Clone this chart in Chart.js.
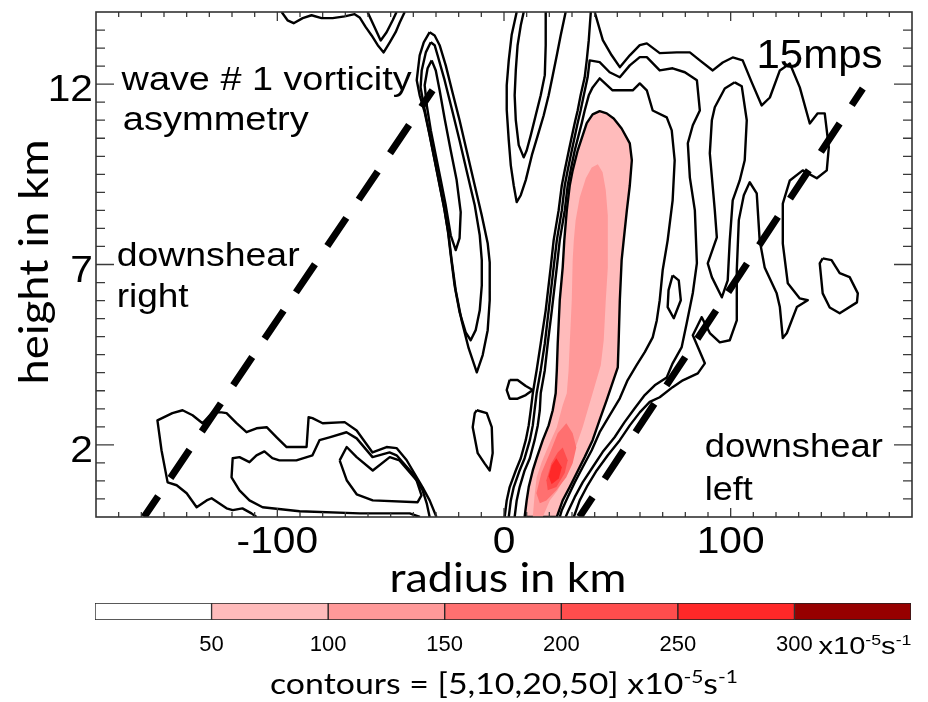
<!DOCTYPE html>
<html>
<head>
<meta charset="utf-8">
<title>wave # 1 vorticity asymmetry</title>
<script src="https://cdn.jsdelivr.net/npm/chart.js@4.4.1/dist/chart.umd.min.js"></script>
<style>
  html, body { margin: 0; padding: 0; background: #ffffff; }
  #wrap { position: relative; width: 928px; height: 702px; overflow: hidden; background: #fff; }
  #main { position: absolute; left: 0; top: 0; }
  #cbar { position: absolute; left: 0; top: 598px; }
</style>
</head>
<body>
<div id="wrap">
  <canvas id="main" width="928" height="600"></canvas>
  <canvas id="cbar" width="928" height="104"></canvas>
</div>
<script>
// ---------------- axes ----------------
const radiusRange = [-180, 180];
const heightRange = [0, 14];
const radiusTickValues = [-100, 0, 100];
const radiusTickLabels = ['-100', '0', '100'];
const heightTickValues = [2, 7, 12];
const heightTickLabels = ['2', '7', '12'];
const radiusMinorStep = 10;
const heightMinorStep = 0.5;
const radiusTitle = 'radius in km';
const heightTitle = 'height in km';

// ---------------- shaded vorticity (x1e-5 s-1), [radius km, height km] ----------------
const shade50 = [[9.1,0],[10.0,0.46],[10.9,0.83],[12.7,1.29],[14.4,1.63],[17.1,2.13],[19.7,2.54],[21.5,2.96],[22.8,3.43],[23.3,4.07],[23.7,4.81],[24.6,6.01],[25.9,6.92],[26.6,7.67],[27.7,8.50],[29.0,9.19],[30.3,9.61],[32.5,10.16],[36.5,10.92],[39.1,11.16],[42.2,11.25],[45.3,11.19],[48.4,11.05],[51.9,10.77],[55.5,10.36],[56.4,9.89],[55.5,9.19],[54.2,8.50],[52.8,7.67],[51.9,7.12],[51.1,6.01],[50.6,4.90],[50.2,4.15],[47.5,3.65],[45.3,3.24],[42.2,2.69],[39.1,2.13],[35.6,1.66],[32.1,1.22],[29.0,0.83],[25.9,0.46],[23.3,0],[9.1,0]];
const shade100 = [[12.7,0],[13.5,0.60],[14.4,1.10],[16.6,1.52],[18.8,1.85],[23.3,2.49],[25.9,3.10],[27.7,3.43],[28.5,4.07],[29.0,4.81],[29.9,6.01],[30.3,7.12],[30.8,7.67],[31.6,8.23],[33.4,8.86],[36.1,9.39],[38.7,9.69],[41.4,9.78],[43.5,9.56],[44.9,9.06],[45.8,8.36],[45.8,6.92],[44.9,6.01],[44.0,4.90],[42.7,4.21],[39.1,3.43],[34.7,2.49],[31.2,1.85],[27.7,1.22],[23.7,0.74],[20.2,0.46],[17.1,0],[12.7,0]];
const shade150 = [[27.5,2.60],[30.3,2.32],[31.9,1.93],[30.3,1.49],[27.5,1.10],[23.1,0.74],[18.7,0.46],[15.8,0.38],[14.3,0.66],[16.5,1.22],[20.2,1.77],[23.7,2.32],[27.5,2.60]];
const shade200 = [[25.9,1.93],[28.1,1.57],[26.8,1.22],[23.1,0.83],[19.3,0.74],[18.7,1.02],[20.9,1.49],[23.7,1.79],[25.9,1.93]];
const shade250 = [[23.1,1.63],[25.5,1.38],[24.2,1.07],[21.0,0.91],[19.7,1.13],[21.0,1.43],[23.1,1.63]];

// ---------------- contour lines [radius km, height km] ----------------
const topDip = [[-98.1,14],[-95.5,13.77],[-92.8,13.69],[-88.8,13.83],[-84.9,13.91],[-80.5,13.83],[-75.6,13.83],[-70.3,13.88],[-65.9,13.94],[-63.7,13.85],[-61.0,13.58],[-58.4,13.35],[-55.7,13.08],[-53.1,12.88],[-50.4,13.16],[-47.8,13.44],[-46.0,13.71],[-43.8,14]];
const topDipInner = [[-60.2,14],[-57.5,13.63],[-54.4,13.21],[-51.8,13.44],[-49.1,13.77],[-47.4,14]];
const tongueOuter = [[-32.8,13.44],[-35.4,13.16],[-37.2,12.80],[-38.5,12.11],[-37.2,11.69],[-35.0,11.22],[-32.8,10.58],[-30.6,9.89],[-28.4,9.19],[-26.2,8.50],[-24.4,7.81],[-23.1,7.12],[-21.3,6.28],[-18.7,5.45],[-15.6,4.68],[-12.0,4.01],[-9.4,4.49],[-7.2,5.18],[-6.3,6.01],[-6.3,7.06],[-7.2,7.59],[-9.8,8.36],[-12.9,9.19],[-16.5,10.16],[-19.6,11.0],[-22.6,11.74],[-25.7,12.52],[-28.4,13.08],[-30.6,13.35],[-32.8,13.44]];
const tongueMid = [[-32.3,13.16],[-34.5,12.88],[-36.3,12.38],[-36.8,11.91],[-35.4,11.42],[-33.2,10.72],[-31.0,10.03],[-28.8,9.34],[-26.6,8.64],[-24.8,7.95],[-23.5,7.26],[-21.8,6.42],[-19.6,5.68],[-16.9,5.12],[-14.7,4.90],[-12.5,5.18],[-10.7,5.73],[-9.8,6.42],[-9.8,7.12],[-10.7,7.81],[-12.9,8.64],[-16.0,9.47],[-19.6,10.44],[-23.1,11.33],[-26.2,12.11],[-29.3,12.80],[-30.6,13.08],[-32.3,13.16]];
const tongueInner = [[-31.9,12.66],[-33.7,12.44],[-35.0,11.97],[-34.1,11.42],[-32.3,10.72],[-30.1,10.03],[-27.9,9.34],[-25.7,8.64],[-23.5,7.81],[-21.3,7.40],[-19.6,7.73],[-19.1,8.45],[-20.9,9.34],[-23.5,10.16],[-26.2,11.05],[-28.4,11.83],[-30.1,12.38],[-31.9,12.66]];
const upperVOuter = [[5.6,14],[3.4,13.37],[2.1,12.66],[1.2,11.97],[1.2,11.29],[2.1,10.44],[3.0,9.75],[4.3,9.19],[5.6,8.73],[7.4,8.92],[9.6,9.34],[12.3,10.03],[14.9,10.58],[17.5,11.13],[19.7,11.69],[21.5,12.24],[23.3,12.80],[25.0,13.35],[27.2,14]];
const upperVInner = [[8.7,14],[7.4,13.63],[6.0,13.08],[5.2,12.38],[4.7,11.69],[5.2,11.0],[6.5,10.31],[8.7,9.97],[10.0,10.16],[11.8,10.58],[14.0,11.14],[16.2,11.69],[18.0,12.25],[18.4,13.08],[18.4,14]];
const eyewall5West = [[0.3,0],[1.2,0.46],[2.5,0.83],[5.2,1.29],[7.4,1.63],[9.6,2.13],[10.9,2.54],[11.8,2.96],[12.7,3.43],[14.4,4.07],[16.2,4.81],[18.4,5.73],[20.6,6.92],[21.9,7.67],[24.1,8.50],[25.5,9.19],[26.8,9.61],[28.6,10.16],[31.2,10.92],[32.5,11.27],[33.8,11.69],[35.6,12.19],[36.5,12.66],[37.4,13.22],[38.3,14]];
const eyewall5East = [[40.0,14],[43.6,13.22],[47.5,12.80],[51.1,12.47],[55.5,12.80],[59.9,13.08],[63.0,13.13],[68.7,12.86],[76.2,12.88],[82.0,12.88],[86.4,12.66],[92.1,12.38],[96.5,12.60],[100.9,12.74],[105.3,12.66],[109.3,12.05],[113.7,11.41],[117.3,11.63],[121.7,12.38],[126.1,12.57],[130.5,11.91],[134.9,10.91],[138.4,11.19],[141.5,11.19],[143.3,10.25],[142.4,9.61],[138.0,9.39],[131.8,9.61],[126.1,9.33],[123.0,8.69],[123.0,7.58],[125.2,6.48],[130.5,6.06],[134.0,6.01],[129.2,5.82],[124.8,5.10],[123.0,4.96],[121.7,5.82],[120.3,6.20],[115.0,6.92],[112.8,7.67],[111.5,8.97],[108.4,9.28],[105.8,8.92],[103.6,8.23],[102.7,6.84],[102.7,5.45],[99.6,4.90],[95.2,4.84],[90.8,5.10],[87.2,5.54],[83.3,5.04],[88.6,4.26],[85.5,3.98],[78.9,3.79],[74.4,3.60],[68.7,3.32],[64.3,3.19],[59.9,2.90],[55.5,2.54],[51.1,2.13],[45.8,1.71],[40.9,1.29],[36.9,0.88],[33.4,0.46],[30.8,0]];
const eyewall10 = [[2.1,0],[3.0,0.46],[4.3,0.83],[6.9,1.29],[9.1,1.63],[11.4,2.13],[12.7,2.54],[13.5,2.96],[14.4,3.43],[16.2,4.07],[18.0,4.81],[19.7,5.73],[21.9,6.92],[23.3,7.67],[25.5,8.50],[26.8,9.19],[28.1,9.61],[29.9,10.16],[32.5,10.92],[33.8,11.27],[35.2,11.69],[36.9,12.19],[37.8,12.66],[42.2,12.61],[46.6,12.33],[51.1,12.19],[55.5,12.52],[59.9,12.75],[63.0,12.75],[68.7,12.38],[74.4,12.44],[79.8,12.33],[85.1,12.11],[86.4,11.27],[83.3,10.86],[81.1,10.36],[82.0,9.41],[84.2,8.50],[85.1,7.04],[83.3,6.21],[80.6,5.37],[78.4,4.71],[74.4,4.26],[71.8,3.87],[66.5,3.65],[62.1,3.38],[57.6,3.01],[53.2,2.63],[48.8,2.21],[43.5,1.80],[39.1,1.38],[34.7,0.96],[31.2,0.55],[28.5,0.19],[27.2,0]];
const eyewall20 = [[4.7,0],[5.6,0.46],[6.9,0.83],[9.1,1.29],[11.4,1.63],[13.5,2.13],[14.9,2.54],[15.8,2.96],[16.2,3.43],[18.0,4.07],[19.3,4.81],[21.1,5.73],[23.3,6.92],[24.6,7.67],[26.8,8.50],[28.1,9.19],[29.4,9.61],[31.2,10.16],[34.3,10.92],[35.6,11.27],[37.4,11.69],[39.1,11.91],[42.2,12.16],[47.9,11.83],[56.8,11.83],[59.9,12.02],[63.0,11.83],[65.6,11.27],[71.8,11.08],[74.0,10.72],[75.3,9.89],[74.4,8.78],[72.2,7.67],[70.0,6.84],[68.7,6.01],[67.4,5.45],[65.6,4.98],[62.1,4.57],[58.5,4.21],[54.5,3.79],[51.1,3.29],[46.6,2.82],[42.2,2.35],[38.7,1.85],[34.7,1.38],[31.2,0.96],[28.1,0.55],[25.5,0.19],[24.6,0]];
const outerBand = [[101.8,12.05],[104.9,11.94],[107.1,11.0],[106.2,9.89],[104.0,9.33],[100.9,8.78],[99.6,7.67],[98.7,6.56],[96.1,6.09],[91.7,6.65],[89.9,7.03],[93.9,7.75],[93.0,8.50],[90.8,10.08],[91.7,11.0],[93.0,11.36],[97.4,11.88],[101.8,12.05]];
const smallLoopEast = [[74.4,6.70],[77.1,6.56],[78.0,6.01],[74.9,5.51],[72.2,5.82],[72.6,6.29],[74.4,6.70]];
const blobFarEast = [[140.6,7.17],[144.5,7.12],[148.1,6.76],[152.5,6.65],[156.1,6.20],[155.7,5.95],[148.1,5.65],[143.7,5.81],[140.6,6.20],[139.3,7.03],[140.6,7.17]];
const blobCenter = [[-12.0,2.96],[-7.6,2.88],[-5.4,2.49],[-5.0,1.77],[-6.3,1.29],[-8.5,1.48],[-11.6,1.77],[-13.8,2.49],[-12.9,2.88],[-12.0,2.96]];
const lobeEyewall = [[2.5,3.80],[6.0,3.80],[9.6,3.63],[12.7,3.52],[9.6,3.38],[6.0,3.28],[2.5,3.28],[1.2,3.52],[2.5,3.80]];
const lowWestOuter = [[-109.2,0],[-111.4,0.10],[-115.4,0.24],[-119.7,0.19],[-122.4,0.24],[-129.0,0.52],[-131.2,0.46],[-135.6,0.27],[-140.0,0.66],[-144.4,0.88],[-148.4,0.96],[-151.1,1.85],[-152.9,2.68],[-146.3,2.88],[-141.8,2.96],[-137.4,2.82],[-133.0,2.60],[-128.6,2.90],[-124.6,2.90],[-122.4,2.88],[-118.0,2.60],[-113.6,2.35],[-109.2,2.46],[-104.7,2.49],[-100.3,2.21],[-95.9,1.94],[-87.1,1.94],[-86.2,2.77],[-84.5,2.74],[-80.0,2.60],[-70.3,2.63],[-65.0,2.40],[-58.0,1.79],[-51.8,1.94],[-47.4,1.91],[-43.0,1.58],[-35.9,0.82],[-32.8,0.46],[-29.8,0]];
const lowWestMid = [[-32.8,0],[-34.1,0.38],[-35.9,0.74],[-40.4,1.21],[-47.4,1.71],[-50.5,1.79],[-58.0,1.66],[-65.0,2.18],[-69.5,2.35],[-77.0,2.21],[-81.4,2.13],[-84.5,1.71],[-91.6,1.57],[-99.1,1.57],[-102.2,1.63],[-105.7,1.82],[-109.2,1.71],[-112.3,1.52],[-116.7,1.66],[-119.7,1.63],[-120.2,1.10],[-116.7,0.74],[-112.3,0.46],[-106.5,0.27],[-90.2,0.16],[-63.7,0.10],[-41.6,0.10],[-37.1,0]];
const lowWestInner = [[-72.5,1.57],[-69.4,1.94],[-65.0,1.66],[-57.9,1.29],[-50.4,1.66],[-46.1,1.57],[-38.6,1.02],[-36.4,0.60],[-38.1,0.41],[-57.9,0.46],[-65.0,0.63],[-69.4,1.02],[-72.5,1.57]];

// ---------------- 15 m/s shear guide lines [radius km, height km] ----------------
const shearLineLeft = [[-31.5,11.83],[-158.8,0]];
const shearLineRight = [[158.3,11.88],[33.3,0]];

// ---------------- annotations ----------------
const annotationTexts = ['wave # 1 vorticity', 'asymmetry', 'downshear', 'right', 'downshear', 'left', '15mps'];
const annotationAnchors = [[-168.7,11.83],[-168.2,10.72],[-170.9,6.95],[-170.9,5.81],[88.6,1.66],[88.6,0.46],[111.4,12.44]];

// ---------------- colour bar ----------------
const cbarBounds = [0, 50, 100, 150, 200, 250, 300, 350];
const cbarColors = ['#ffffff', '#ffbbbb', '#ff9999', '#ff7070', '#ff4d4d', '#ff2828', '#960000'];
const cbarTickValues = [50, 100, 150, 200, 250, 300];
const unitParts = [['x10', false], ['-5', true], ['s', false], ['-1', true]];
const contourNoteParts = [['contours = [5,10,20,50] x10', false], ['-5', true], ['s', false], ['-1', true]];

// ---------------- styles / layout ----------------
const annotationStyle = [
  {size: 34, width: 290}, {size: 34, width: 186}, {size: 34, width: 183}, {size: 34, width: 72},
  {size: 34, width: 178}, {size: 34, width: 48}, {size: 40, width: 126}
];
const sansFont = '"Liberation Sans", Arial, sans-serif';
const titleFont = 'Lato, "Open Sans", sans-serif';
const contourWidth = 2.4;

const toXY = pts => pts.map(([x, y]) => ({x, y}));
function contourSet(pts) {
  return {data: toXY(pts), borderColor: '#000', borderWidth: contourWidth, fill: false, pointRadius: 0,
          borderJoinStyle: 'round', order: 2};
}
function shadeSet(pts, color, ord, outline) {
  return {data: toXY(pts), backgroundColor: color, borderColor: outline ? '#000' : color,
          borderWidth: outline ? contourWidth : 0, fill: 'shape', pointRadius: 0, order: ord, borderJoinStyle: 'round'};
}
function shearSet(pts) {
  return {data: toXY(pts), borderColor: '#000', borderWidth: 7, borderDash: [34, 22], borderDashOffset: 14,
          borderCapStyle: 'butt', fill: false, pointRadius: 0, order: 0};
}

function drawText(ctx, text, x, y, font, opt) {
  ctx.save();
  ctx.font = font;
  ctx.textAlign = 'left';
  ctx.textBaseline = 'alphabetic';
  ctx.fillStyle = '#000';
  const w = ctx.measureText(text).width;
  const sx = opt.width ? opt.width / w : (opt.sx || 1);
  const tw = w * sx;
  if (opt.rotate) {
    ctx.translate(x, y);
    ctx.rotate(-Math.PI / 2);
    ctx.scale(sx, 1);
    ctx.fillText(text, -w / 2, 0);
  } else {
    let x0 = x;
    if (opt.align === 'center') x0 = x - tw / 2;
    else if (opt.align === 'right') x0 = x - tw;
    ctx.translate(x0, y);
    ctx.scale(sx, 1);
    ctx.fillText(text, 0, 0);
  }
  ctx.restore();
}

function drawRich(ctx, parts, x, y, size, family, opt) {
  ctx.save();
  ctx.fillStyle = '#000';
  ctx.textBaseline = 'alphabetic';
  ctx.textAlign = 'left';
  const supSize = Math.round(size * 0.62);
  let total = 0;
  const widths = parts.map(([t, sup]) => {
    ctx.font = (sup ? supSize : size) + 'px ' + family;
    const w = ctx.measureText(t).width; total += w; return w;
  });
  const sx = opt.width ? opt.width / total : 1;
  let x0 = opt.align === 'center' ? x - total * sx / 2 : x;
  ctx.translate(x0, y);
  ctx.scale(sx, 1);
  let cx = 0;
  parts.forEach(([t, sup], i) => {
    ctx.font = (sup ? supSize : size) + 'px ' + family;
    ctx.fillText(t, cx, sup ? -size * 0.38 : 0);
    cx += widths[i];
  });
  ctx.restore();
}

const frameAndLabels = {
  id: 'frameAndLabels',
  afterDraw(chart) {
    const {ctx, chartArea: a} = chart;
    const xs = chart.scales.x, ys = chart.scales.y;
    ctx.save();
    ctx.strokeStyle = '#3a3a3a';
    ctx.lineWidth = 1.3;
    ctx.beginPath();
    for (let v = radiusRange[0] + radiusMinorStep; v < radiusRange[1]; v += radiusMinorStep) {
      const px = xs.getPixelForValue(v);
      const len = radiusTickValues.includes(v) ? 9 : 5;
      ctx.moveTo(px, a.bottom); ctx.lineTo(px, a.bottom - len);
      ctx.moveTo(px, a.top); ctx.lineTo(px, a.top + len);
    }
    const nY = Math.round((heightRange[1] - heightRange[0]) / heightMinorStep);
    for (let k = 1; k < nY; k++) {
      const v = heightRange[0] + k * heightMinorStep;
      const py = ys.getPixelForValue(v);
      const len = heightTickValues.includes(v) ? 18 : 9;
      ctx.moveTo(a.left, py); ctx.lineTo(a.left + len, py);
      ctx.moveTo(a.right, py); ctx.lineTo(a.right - len, py);
    }
    ctx.stroke();
    ctx.strokeStyle = '#333';
    ctx.lineWidth = 1.6;
    ctx.strokeRect(a.left, a.top, a.right - a.left, a.bottom - a.top);
    ctx.restore();

    radiusTickValues.forEach((v, i) => {
      drawText(ctx, radiusTickLabels[i], xs.getPixelForValue(v), a.bottom + 36, '37px ' + sansFont, {sx: 1.1, align: 'center'});
    });
    heightTickValues.forEach((v, i) => {
      drawText(ctx, heightTickLabels[i], a.left - 3, ys.getPixelForValue(v) + 17, '37px ' + sansFont, {sx: 1.1, align: 'right'});
    });
    drawText(ctx, radiusTitle, (a.left + a.right) / 2 + 4, a.bottom + 75, '40px ' + titleFont, {width: 237, align: 'center'});
    drawText(ctx, heightTitle, 48, 262, '40px ' + titleFont, {width: 245, rotate: true});
    annotationTexts.forEach((t, i) => {
      const [r, h] = annotationAnchors[i];
      const st = annotationStyle[i];
      drawText(ctx, t, xs.getPixelForValue(r), ys.getPixelForValue(h), st.size + 'px ' + sansFont, {width: st.width});
    });
  }
};

const datasets = [
  shadeSet(shade50, '#ffbbbb', 10, true),
  shadeSet(shade100, '#ff9999', 9, false),
  shadeSet(shade150, '#ff7070', 8, false),
  shadeSet(shade200, '#ff4d4d', 7, false),
  shadeSet(shade250, '#ff2828', 6, false),
  contourSet(topDip), contourSet(topDipInner),
  contourSet(tongueOuter), contourSet(tongueMid), contourSet(tongueInner),
  contourSet(upperVOuter), contourSet(upperVInner),
  contourSet(eyewall5West), contourSet(eyewall5East), contourSet(eyewall10), contourSet(eyewall20),
  contourSet(outerBand), contourSet(smallLoopEast), contourSet(blobFarEast), contourSet(blobCenter), contourSet(lobeEyewall),
  contourSet(lowWestOuter), contourSet(lowWestMid), contourSet(lowWestInner),
  shearSet(shearLineLeft), shearSet(shearLineRight)
];

new Chart(document.getElementById('main'), {
  type: 'line',
  data: {datasets},
  options: {
    responsive: false,
    animation: false,
    events: [],
    layout: {padding: {left: 96, top: 12, right: 16, bottom: 83}},
    plugins: {legend: {display: false}, tooltip: {enabled: false}},
    elements: {point: {radius: 0}, line: {tension: 0}},
    scales: {
      x: {type: 'linear', min: radiusRange[0], max: radiusRange[1], display: false},
      y: {type: 'linear', min: heightRange[0], max: heightRange[1], display: false}
    }
  },
  plugins: [frameAndLabels]
});

const cbarText = {
  id: 'cbarText',
  afterDraw(chart) {
    const ctx = chart.ctx;
    const xs = chart.scales.x;
    drawRich(ctx, unitParts, xs.getPixelForValue(300) + 24, 56, 23, sansFont, {width: 93});
    drawRich(ctx, contourNoteParts, 504, 96, 29, titleFont, {width: 468, align: 'center'});
  }
};

new Chart(document.getElementById('cbar'), {
  type: 'bar',
  data: {
    labels: [''],
    datasets: cbarColors.map((c, i) => ({
      data: [cbarBounds[i + 1] - cbarBounds[i]], backgroundColor: c, borderColor: '#222', borderWidth: 1,
      borderSkipped: false, barPercentage: 1, categoryPercentage: 1
    }))
  },
  options: {
    indexAxis: 'y',
    responsive: false,
    animation: false,
    events: [],
    layout: {padding: {left: 95, right: 17, top: 5, bottom: 0}},
    plugins: {legend: {display: false}, tooltip: {enabled: false}},
    scales: {
      x: {
        type: 'linear', stacked: true, min: cbarBounds[0], max: cbarBounds[cbarBounds.length - 1],
        afterBuildTicks: ax => { ax.ticks = cbarTickValues.map(v => ({value: v})); },
        afterFit: ax => { ax.height = 82; },
        grid: {display: false, drawTicks: false},
        border: {display: false},
        ticks: {color: '#000', font: {family: sansFont, size: 22}, padding: 12, maxRotation: 0, autoSkip: false}
      },
      y: {stacked: true, display: false}
    }
  },
  plugins: [cbarText]
});
</script>
</body>
</html>
